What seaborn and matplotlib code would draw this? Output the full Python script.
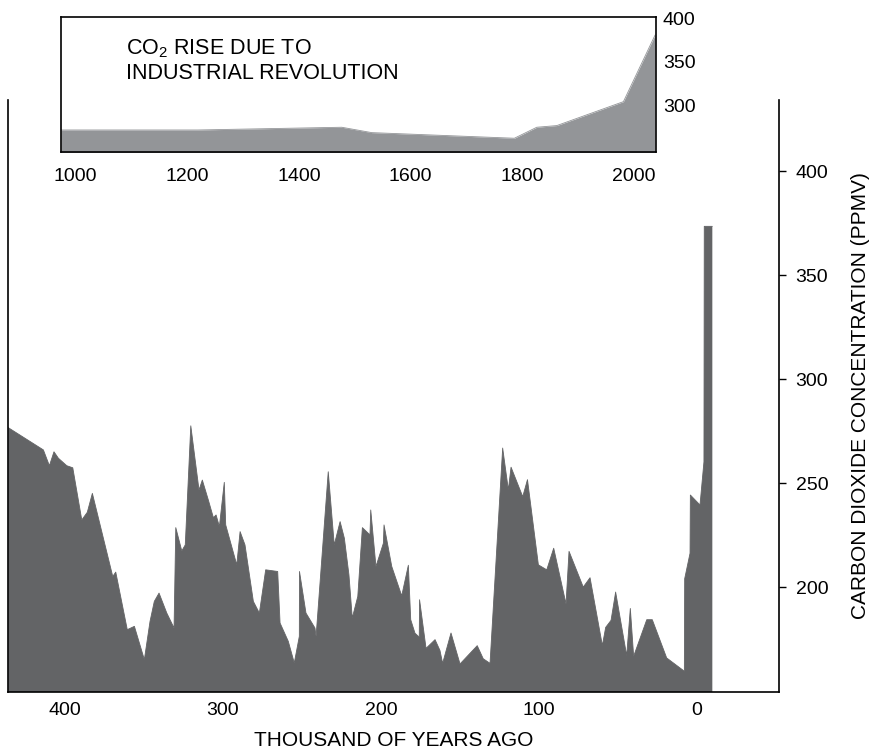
import numpy as np
import pandas as pd
import matplotlib
matplotlib.use("Agg")
import matplotlib.pyplot as plt
import seaborn as sns

sns.set_theme(style="white")
plt.rcParams['font.family'] = ['Liberation Sans', 'DejaVu Sans']
plt.rcParams['mathtext.fontset'] = 'custom'
plt.rcParams['mathtext.rm'] = 'Liberation Sans'

# ---- main record: thousand years ago vs CO2 (ppmv) ----
kyr_ago = [435.9, 413.7, 409.9, 407.0, 404.2, 398.9, 395.1, 389.4, 385.9, 382.7,
           369.8, 367.9, 360.6, 356.1, 349.8, 346.2, 343.5, 340.5, 335.6, 331.0,
           329.9, 326.1, 323.9, 320.4, 315.2, 313.1, 309.3, 306.1, 304.4, 302.3,
           299.2, 298.3, 291.3, 289.2, 286.1, 280.8, 277.0, 273.0, 265.4, 263.9,
           258.7, 254.9, 251.7, 251.6, 247.5, 241.8, 241.1, 233.4, 229.6, 225.9,
           223.2, 220.3, 218.2, 214.7, 211.8, 207.0, 206.5, 203.2, 198.5, 198.1,
           193.2, 186.9, 182.7, 181.2, 178.5, 175.8, 175.6, 171.5, 165.8, 162.7,
           161.0, 155.7, 150.0, 139.1, 135.3, 131.0, 123.0, 119.4, 117.7, 110.3,
           107.3, 100.4, 95.1, 90.7, 82.9, 81.0, 72.0, 67.7, 59.9, 57.8,
           54.4, 51.5, 44.5, 42.2, 40.1, 31.8, 28.3, 19.2, 8.0, 7.8,
           4.4, 4.2, -1.9, -4.4, -4.6, -9.7]
co2_ppmv = [276.7, 266.0, 258.4, 265.1, 262.0, 258.4, 257.4, 232.3, 236.0, 245.1,
            205.1, 207.2, 179.5, 181.1, 165.1, 183.5, 193.1, 197.1, 187.5, 180.3,
            228.6, 217.4, 220.3, 277.6, 246.7, 251.5, 241.9, 233.4, 234.7, 229.1,
            250.4, 229.9, 210.7, 226.7, 220.3, 193.1, 187.5, 208.3, 207.5, 182.7,
            173.9, 163.5, 176.3, 207.5, 187.5, 180.3, 176.3, 255.5, 220.3, 231.5,
            223.5, 205.9, 185.1, 195.5, 228.6, 225.1, 237.1, 209.9, 221.1, 229.9,
            209.9, 195.8, 210.5, 184.3, 177.8, 175.9, 193.9, 170.5, 174.7, 169.5,
            163.3, 177.9, 163.0, 171.8, 165.5, 163.3, 266.9, 246.8, 257.7, 243.5,
            251.7, 210.7, 208.3, 218.7, 191.9, 217.2, 200.0, 204.5, 171.9, 180.6,
            184.0, 197.6, 167.0, 189.7, 166.7, 184.3, 184.3, 165.9, 159.5, 204.0,
            216.3, 244.3, 239.5, 260.3, 373.6, 373.6]

# ---- inset: last millennium ----
inset_year = [974.4, 1219.6, 1476.7, 1530.4, 1785.6, 1825.7, 1861.5, 1980.7, 2037.4]
inset_co2 = [272.7, 272.7, 275.8, 269.7, 263.3, 275.8, 277.7, 304.9, 380.7]

main_xticks = [400, 300, 200, 100, 0]
main_yticks = [200, 250, 300, 350, 400]
inset_xticks = [1000, 1200, 1400, 1600, 1800, 2000]
inset_yticks = [300, 350, 400]

MAIN_GRAY = "#636466"
INSET_GRAY = "#939598"
TICK_FS = 14
LABEL_FS = 15

W, H = 874, 752
fig = plt.figure(figsize=(W / 100, H / 100), dpi=100)

# main axes
ax = fig.add_axes([8 / W, 1 - 692 / H, 771 / W, 592 / H])
df = pd.DataFrame({"kyr": kyr_ago, "co2": co2_ppmv})
sns.lineplot(data=df, x="kyr", y="co2", ax=ax, color=MAIN_GRAY, lw=0.6,
             sort=False, estimator=None)
ax.fill_between(df["kyr"], 0, df["co2"], color=MAIN_GRAY, lw=0)
ax.set_xlim(436.1, -51.9)
ax.set_ylim(149.5, 434.4)
ax.set_xticks(main_xticks)
ax.set_xticklabels([str(v) for v in main_xticks])
ax.set_yticks(main_yticks)
ax.yaxis.tick_right()
ax.yaxis.set_label_position("right")
ax.tick_params(axis="x", length=0, pad=7, labelsize=TICK_FS, colors="black")
ax.tick_params(axis="y", which="both", direction="out", length=5, width=1,
               pad=7, labelsize=TICK_FS, colors="black", left=False, right=True)
ax.set_xlabel("THOUSAND OF YEARS AGO", fontsize=LABEL_FS, labelpad=9, color="black")
ax.set_ylabel("CARBON DIOXIDE CONCENTRATION (PPMV)", fontsize=LABEL_FS,
              labelpad=16, color="black")
ax.spines["top"].set_visible(False)
for s in ["left", "right", "bottom"]:
    ax.spines[s].set_color("black")
    ax.spines[s].set_linewidth(1.2)

# inset axes
ax2 = fig.add_axes([61 / W, 1 - 151.7 / H, 595 / W, 134.4 / H])
ax2.set_facecolor("white")
dfi = pd.DataFrame({"year": inset_year, "co2": inset_co2})
sns.lineplot(data=dfi, x="year", y="co2", ax=ax2, color=INSET_GRAY, lw=0.6,
             sort=False, estimator=None)
ax2.fill_between(dfi["year"], 0, dfi["co2"], color=INSET_GRAY, lw=0)
ax2.set_xlim(974.4, 2039)
ax2.set_ylim(248, 400.8)
ax2.set_xticks(inset_xticks)
ax2.set_xticklabels([str(v) for v in inset_xticks])
ax2.set_yticks(inset_yticks)
ax2.yaxis.tick_right()
ax2.tick_params(axis="x", length=0, pad=12, labelsize=TICK_FS, colors="black")
ax2.tick_params(axis="y", length=0, pad=5, labelsize=TICK_FS, colors="black",
                left=False, right=True)
ax2.set_xlabel("")
ax2.set_ylabel("")
for s in ax2.spines.values():
    s.set_visible(True)
    s.set_color("black")
    s.set_linewidth(1.2)
ax2.text(0.110, 0.769, "CO$_\\mathregular{2}$ RISE DUE TO", transform=ax2.transAxes,
         ha="left", va="center", fontsize=15.5, color="black")
ax2.text(0.110, 0.583, "INDUSTRIAL REVOLUTION", transform=ax2.transAxes,
         ha="left", va="center", fontsize=15.5, color="black")

fig.savefig("out.png", dpi=100)
